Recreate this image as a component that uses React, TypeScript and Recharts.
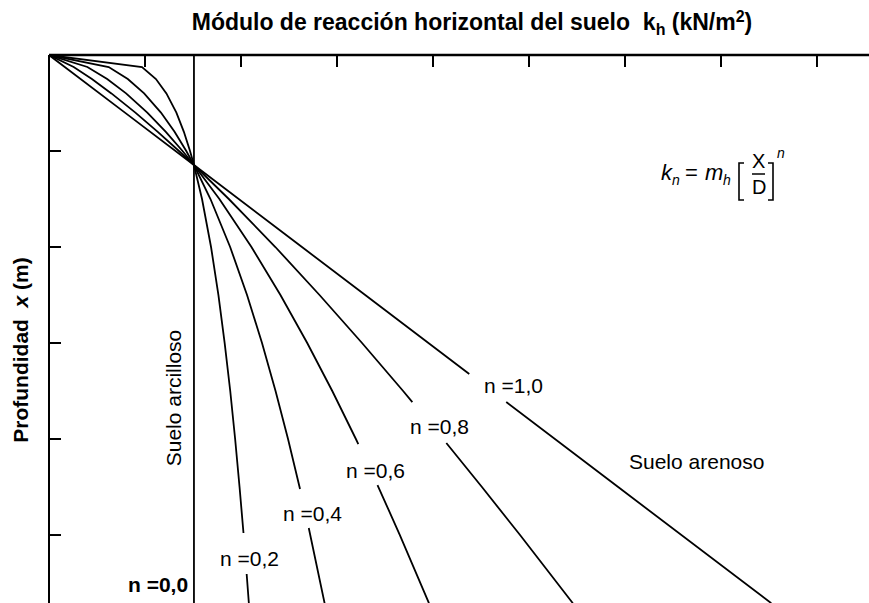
import React from 'react';
import { LineChart, Line, XAxis, YAxis } from 'recharts';

// k axis ticks (top) and depth ticks (left), in tick units
const kTicks = [1, 2, 3, 4, 5, 6, 7, 8];
const depthTicks = [1, 2, 3, 4, 5];
const kDomain = [0, 8.542];
const depthDomain = [0, 5.708];

// Curves k_n = m_h (x/D)^n (k, depth); null = gap under a label
const curveN00 = [
  { k: 1.51, d: 0 },
  { k: 1.51, d: 5.71 },
];
const curveN02 = [
  { k: 0, d: 0 }, { k: 0.969, d: 0.125 }, { k: 1.114, d: 0.25 }, { k: 1.223, d: 0.4 },
  { k: 1.327, d: 0.6 }, { k: 1.405, d: 0.8 }, { k: 1.469, d: 1.0 }, { k: 1.51, d: 1.146 },
  { k: 1.594, d: 1.5 }, { k: 1.688, d: 2.0 }, { k: 1.765, d: 2.5 }, { k: 1.83, d: 3.0 },
  { k: 1.888, d: 3.5 }, { k: 1.939, d: 4.0 }, { k: 1.985, d: 4.5 }, { k: 2.026, d: 4.979 },
  { k: null, d: null },
  { k: 2.059, d: 5.406 }, { k: 2.082, d: 5.71 },
];
const curveN04 = [
  { k: 0, d: 0 }, { k: 0.622, d: 0.125 }, { k: 0.821, d: 0.25 }, { k: 0.991, d: 0.4 },
  { k: 1.166, d: 0.6 }, { k: 1.308, d: 0.8 }, { k: 1.43, d: 1.0 }, { k: 1.51, d: 1.146 },
  { k: 1.682, d: 1.5 }, { k: 1.887, d: 2.0 }, { k: 2.063, d: 2.5 }, { k: 2.219, d: 3.0 },
  { k: 2.36, d: 3.5 }, { k: 2.49, d: 4.0 }, { k: 2.615, d: 4.521 },
  { k: null, d: null },
  { k: 2.706, d: 4.927 }, { k: 2.871, d: 5.71 },
];
const curveN06 = [
  { k: 0, d: 0 }, { k: 0.4, d: 0.125 }, { k: 0.606, d: 0.25 }, { k: 0.803, d: 0.4 },
  { k: 1.024, d: 0.6 }, { k: 1.217, d: 0.8 }, { k: 1.391, d: 1.0 }, { k: 1.51, d: 1.146 },
  { k: 1.775, d: 1.5 }, { k: 2.109, d: 2.0 }, { k: 2.411, d: 2.5 }, { k: 2.69, d: 3.0 },
  { k: 2.951, d: 3.5 }, { k: 3.197, d: 4.0 }, { k: 3.222, d: 4.052 },
  { k: null, d: null },
  { k: 3.422, d: 4.479 }, { k: 3.655, d: 5.0 }, { k: 3.958, d: 5.71 },
];
const curveN08 = [
  { k: 0, d: 0 }, { k: 0.257, d: 0.125 }, { k: 0.447, d: 0.25 }, { k: 0.65, d: 0.4 },
  { k: 0.9, d: 0.6 }, { k: 1.133, d: 0.8 }, { k: 1.354, d: 1.0 }, { k: 1.51, d: 1.146 },
  { k: 1.873, d: 1.5 }, { k: 2.358, d: 2.0 }, { k: 2.818, d: 2.5 }, { k: 3.261, d: 3.0 },
  { k: 3.689, d: 3.5 }, { k: 3.785, d: 3.615 },
  { k: null, d: null },
  { k: 4.139, d: 4.042 }, { k: 4.51, d: 4.5 }, { k: 4.907, d: 5.0 }, { k: 5.457, d: 5.71 },
];
const curveN10 = [
  { k: 0, d: 0 }, { k: 0.791, d: 0.6 }, { k: 1.51, d: 1.146 }, { k: 2.635, d: 2.0 },
  { k: 3.294, d: 2.5 }, { k: 4.378, d: 3.323 },
  { k: null, d: null },
  { k: 4.763, d: 3.615 }, { k: 5.929, d: 4.5 }, { k: 7.524, d: 5.71 },
];

const curves = [curveN00, curveN02, curveN04, curveN06, curveN08, curveN10];
const curveNames = ['n=0,0', 'n=0,2', 'n=0,4', 'n=0,6', 'n=0,8', 'n=1,0'];

const FONT = "'Liberation Sans', Arial, Helvetica, sans-serif";

const EmptyTick = () => <g />;

export default function App() {
  return (
    <div style={{ position: 'absolute', left: 0, top: 0, width: 869, height: 603, background: '#fff' }}>
      <LineChart
        width={869}
        height={603}
        margin={{ top: 55, right: 0, left: 49, bottom: 0 }}
      >
        <XAxis
          type="number"
          dataKey="k"
          orientation="top"
          mirror
          domain={kDomain}
          ticks={kTicks}
          allowDataOverflow
          tick={EmptyTick}
          tickSize={12}
          axisLine={{ stroke: '#000', strokeWidth: 2.5 }}
          tickLine={{ stroke: '#000', strokeWidth: 2 }}
        />
        <YAxis
          type="number"
          dataKey="d"
          reversed
          mirror
          domain={depthDomain}
          ticks={depthTicks}
          allowDataOverflow
          tick={EmptyTick}
          tickSize={12}
          axisLine={{ stroke: '#000', strokeWidth: 2 }}
          tickLine={{ stroke: '#000', strokeWidth: 2 }}
        />
        {curves.map((c, i) => (
          <Line
            key={curveNames[i]}
            name={curveNames[i]}
            data={c}
            dataKey="d"
            type="linear"
            stroke="#000"
            strokeWidth={1.8}
            dot={false}
            activeDot={false}
            isAnimationActive={false}
          />
        ))}
      </LineChart>
      <svg
        width={869}
        height={603}
        style={{ position: 'absolute', left: 0, top: 0, pointerEvents: 'none' }}
        fontFamily={FONT}
      >
        <text x={472} y={30} textAnchor="middle" fontSize={23} fontWeight="bold" style={{ whiteSpace: 'pre' }}>
          {'Módulo de reacción horizontal del suelo  k'}
          <tspan dy={5} fontSize={16}>h</tspan>
          <tspan dy={-5}>{' (kN/m'}</tspan>
          <tspan dy={-8} fontSize={16}>2</tspan>
          <tspan dy={8}>)</tspan>
        </text>
        <text
          transform="translate(28,350) rotate(-90)"
          textAnchor="middle"
          fontSize={21}
          fontWeight="bold"
          style={{ whiteSpace: 'pre' }}
        >
          {'Profundidad  '}
          <tspan fontStyle="italic">x</tspan>
          {' (m)'}
        </text>
        <text transform="translate(181,398) rotate(-90)" textAnchor="middle" fontSize={21}>
          Suelo arcilloso
        </text>
        <text x={484} y={393} fontSize={21}>n =1,0</text>
        <text x={410} y={434} fontSize={21}>n =0,8</text>
        <text x={346} y={478} fontSize={21}>n =0,6</text>
        <text x={283} y={521} fontSize={21}>n =0,4</text>
        <text x={220} y={566} fontSize={21}>n =0,2</text>
        <text x={128} y={592} fontSize={21} fontWeight="bold">n =0,0</text>
        <text x={629} y={469} fontSize={21}>Suelo arenoso</text>
        {/* formula k_n = m_h [X/D]^n */}
        <text x={661} y={180} fontSize={22} fontStyle="italic">k</text>
        <text x={672} y={185} fontSize={14} fontStyle="italic">n</text>
        <text x={685} y={180} fontSize={22}>=</text>
        <text x={705} y={180} fontSize={22} fontStyle="italic">m</text>
        <text x={723} y={185} fontSize={14} fontStyle="italic">h</text>
        <path d="M744,163 H739 V200 H744" fill="none" stroke="#000" strokeWidth={1.6} />
        <text x={752} y={168} fontSize={20}>X</text>
        <line x1={752} x2={765} y1={174} y2={174} stroke="#000" strokeWidth={1.5} />
        <text x={752} y={194} fontSize={20}>D</text>
        <path d="M768,163 H773 V200 H768" fill="none" stroke="#000" strokeWidth={1.6} />
        <text x={777} y={158} fontSize={14} fontStyle="italic">n</text>
      </svg>
    </div>
  );
}
